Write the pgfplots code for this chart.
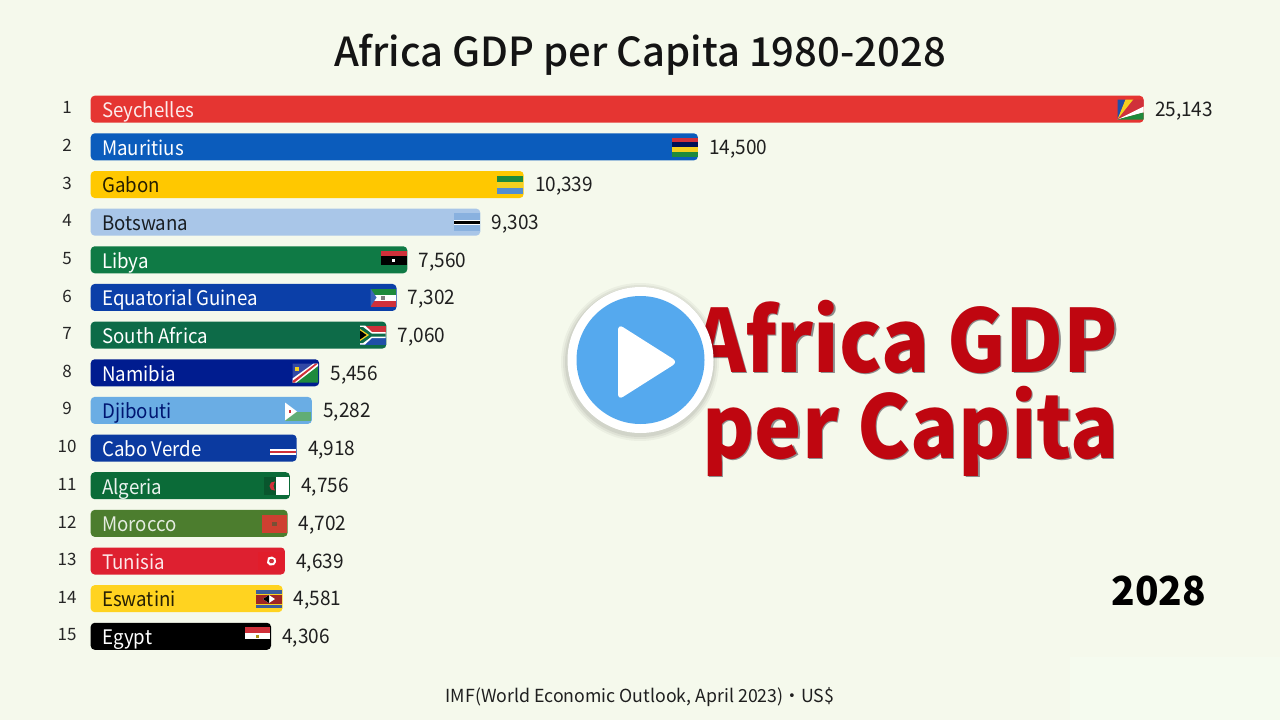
\documentclass[border=0pt]{standalone}
\usepackage{fontspec}
\usepackage{graphicx}
\usepackage{pgfplots}
\pgfplotsset{compat=1.18}
\setmainfont{Noto Sans CJK SC}
\newfontfamily\medf{Noto Sans CJK SC Medium}
\definecolor{bgc}{HTML}{F5F9EC}
\definecolor{patchc}{HTML}{F5FBEF}
\definecolor{bigred}{HTML}{BF0610}
\definecolor{playb}{HTML}{55A9EE}
\definecolor{c1}{HTML}{E53532}
\definecolor{c2}{HTML}{0B5CBC}
\definecolor{c3}{HTML}{FFC800}
\definecolor{c4}{HTML}{A9C6E8}
\definecolor{c5}{HTML}{0F7A45}
\definecolor{c6}{HTML}{0B3FA8}
\definecolor{c7}{HTML}{0D6B48}
\definecolor{c8}{HTML}{001C8F}
\definecolor{c9}{HTML}{6AADE4}
\definecolor{c10}{HTML}{0B3AA0}
\definecolor{c11}{HTML}{0B6B38}
\definecolor{c12}{HTML}{4C7D2E}
\definecolor{c13}{HTML}{DE2030}
\definecolor{c14}{HTML}{FFD320}
\definecolor{c15}{HTML}{000000}
\definecolor{fred}{HTML}{D0303A}
\definecolor{fgreen}{HTML}{1E8A3C}
\definecolor{fblue}{HTML}{1F4FA8}
\definecolor{fyel}{HTML}{F4D020}
\pgfplotsset{
  mybar/.style={xbar, bar width=27pt, bar shift=0pt, rounded corners=4pt, draw=none, fill=#1,
    nodes near coords,
    nodes near coords style={anchor=west, xshift=8pt, yshift=-1.9pt, text=black!88,
      xscale=0.95, transform shape,
      font=\fontsize{20}{24}\selectfont,
      /pgf/number format/assume math mode=true,
      /pgf/number format/fixed, /pgf/number format/precision=0,
      /pgf/number format/1000 sep={,}}},
}
% flag helpers: local coordinates in pixels, origin at the flag's top left
\newcommand\FP[2]{\addplot[fill=#1,draw=none,forget plot,
   x filter/.expression={x+\fx}, y filter/.expression={y+\fy}] coordinates {#2} --cycle;}
\newcommand\FR[5]{\FP{#5}{(#1,#2) (#3,#2) (#3,#4) (#1,#4)}}
\newcommand\FO[2]{\def\fx{#1}\def\fy{#2}}
\newcommand\nm[3]{\node[anchor=base west,text=#3,font=\fontsize{20}{24}\selectfont,xshift=8pt,yshift=-8.3pt] at (axis cs:0,#1) {\scalebox{0.934}[1]{#2}};}
\newcommand\bigt[5]{\node[anchor=base east,font=\bfseries\fontsize{87}{96}\selectfont,text=#4,xshift=#5pt,yshift=-#5pt] at (axis cs:#1,#2) {\scalebox{0.915}[1]{#3}};}
\begin{document}
\begin{tikzpicture}
\useasboundingbox (0,0) rectangle (1280pt,720pt);
\fill[bgc] (0,0) rectangle (1280pt,720pt);
\fill[patchc] (1070pt,0) rectangle (1280pt,63pt);
\begin{axis}[
  at={(0,0)}, anchor=south west, scale only axis, width=1280pt, height=720pt,
  xmin=-2165.6, xmax=28398, ymin=-1.9004, ymax=17.223, y dir=reverse,
  axis line style={draw=none}, major tick length=0pt, xtick=\empty,
  ytick={1,2,3,4,5,6,7,8,9,10,11,12,13,14,15},
  yticklabel style={anchor=center, xshift=67pt, yshift=1.5pt, text=black!85,
     font=\fontsize{17}{20}\selectfont, /pgf/number format/assume math mode=true},
]
\addplot[mybar=c1] coordinates {(25143,1)};
\addplot[mybar=c2] coordinates {(14500,2)};
\addplot[mybar=c3] coordinates {(10339,3)};
\addplot[mybar=c4] coordinates {(9303,4)};
\addplot[mybar=c5] coordinates {(7560,5)};
\addplot[mybar=c6] coordinates {(7302,6)};
\addplot[mybar=c7] coordinates {(7060,7)};
\addplot[mybar=c8] coordinates {(5456,8)};
\addplot[mybar=c9] coordinates {(5282,9)};
\addplot[mybar=c10] coordinates {(4918,10)};
\addplot[mybar=c11] coordinates {(4756,11)};
\addplot[mybar=c12] coordinates {(4702,12)};
\addplot[mybar=c13] coordinates {(4639,13)};
\addplot[mybar=c14] coordinates {(4581,14)};
\addplot[mybar=c15] coordinates {(4306,15)};
\nm{1}{Seychelles}{white!90!c1}
\nm{2}{Mauritius}{white}
\nm{3}{Gabon}{black!85!c3}
\nm{4}{Botswana}{black!85!c4}
\nm{5}{Libya}{white}
\nm{6}{Equatorial Guinea}{white}
\nm{7}{South Africa}{white}
\nm{8}{Namibia}{white}
\nm{9}{Djibouti}{c8!80!black}
\nm{10}{Cabo Verde}{white}
\nm{11}{Algeria}{white!92!c11}
\nm{12}{Morocco}{white!85!c12}
\nm{13}{Tunisia}{white!90!c13}
\nm{14}{Eswatini}{black!85!c14}
\nm{15}{Egypt}{white}
\end{axis}
\begin{axis}[
  at={(0,0)}, anchor=south west, scale only axis, width=1280pt, height=720pt,
  xmin=0, xmax=1280, ymin=0, ymax=720, y dir=reverse, hide axis,
]
% Seychelles
\FO{1117.5}{99.5}
\FP{fblue}{(0,20) (0,0) (8,0)}
\FP{fyel}{(0,20) (8,0) (16,0)}
\FP{fred}{(0,20) (16,0) (26,0) (26,7)}
\FP{white}{(0,20) (26,7) (26,13)}
\FP{fgreen}{(0,20) (26,13) (26,20)}
% Mauritius
\FO{672}{137.5}
\FR{0}{0}{25.5}{4.8}{fred}
\FR{0}{4.8}{25.5}{9.5}{c8!60!black}
\FR{0}{9.5}{25.5}{14.2}{fyel}
\FR{0}{14.2}{25.5}{19}{fgreen}
% Gabon
\FO{497}{175.5}
\FR{0}{0}{25.5}{6}{fgreen}
\FR{0}{6}{25.5}{12}{fyel}
\FR{0}{12}{25.5}{18.5}{c2!70!white}
% Botswana
\FO{454}{213}
\FR{0}{0}{25.5}{6.5}{c4!80!c2}
\FR{0}{6.5}{25.5}{7.5}{white}
\FR{0}{7.5}{25.5}{10.5}{black}
\FR{0}{10.5}{25.5}{11.5}{white}
\FR{0}{11.5}{25.5}{18}{c4!80!c2}
% Libya
\FO{381}{251}
\FR{0}{0}{25.5}{4.5}{fred}
\FR{0}{4.5}{25.5}{13.5}{black}
\FR{0}{13.5}{25.5}{18}{c5}
\FR{11}{7.5}{14}{10.5}{white}
% Equatorial Guinea
\FO{370.5}{288.5}
\FR{0}{0}{25.5}{6}{fgreen}
\FR{0}{6}{25.5}{12}{white}
\FR{0}{12}{25.5}{18}{fred}
\FP{c6!80!white}{(0,0) (6,9) (0,18)}
\FR{10.5}{7}{14}{11}{gray}
% South Africa
\FO{360}{325.5}
\FR{0}{0}{25.5}{9.5}{fred}
\FR{0}{9.5}{25.5}{19}{fblue}
\FP{white}{(0,0) (5,0) (12,6.5) (25.5,6.5) (25.5,12.5) (12,12.5) (5,19) (0,19)}
\FP{c7}{(0,1.5) (3,1.5) (11.5,8) (25.5,8) (25.5,11) (11.5,11) (3,17.5) (0,17.5)}
\FP{fyel}{(0,3.5) (9,9.5) (0,15.5)}
\FP{black}{(0,5) (6.5,9.5) (0,14)}
% Namibia
\FO{292.5}{363.5}
\FP{c8!80!white}{(0,0) (25.5,0) (0,19)}
\FP{fgreen}{(25.5,0) (25.5,19) (0,19)}
\FP{white}{(0,19) (0,15) (21,0) (25.5,0) (25.5,2.5) (4,19)}
\FP{fred}{(0,19) (0,17.5) (23,0) (25.5,0) (2,19)}
\FR{2.5}{3}{6.5}{7}{fyel}
% Djibouti
\FO{285}{402.5}
\FR{0}{9}{25.5}{18}{fgreen!70!white}
\FP{white}{(0,0) (12,9) (0,18)}
\FR{3.5}{7.8}{6}{10.2}{fred}
% Cabo Verde
\FO{270}{444}
\FR{0}{4.8}{25.5}{10.5}{white}
\FR{0}{6.7}{25.5}{8.6}{fred}
% Algeria
\FO{264}{477}
\FR{12}{0}{25}{18}{white}
\FR{0}{0}{12}{18}{c11!80!black}
\FP{fred}{(7,5.5) (11,4.5) (10,6.5) (9.5,9) (10,11.5) (11,13.5) (7,12.5) (5.5,9)}
% Morocco
\FO{261.5}{515}
\FR{0}{0}{25.5}{18}{c1!85!c12}
\FR{10.5}{6.5}{15}{11}{c11!50!c1}
% Tunisia
\FO{258}{552}
\FR{0}{0}{25.5}{18}{c13!90!red}
\FP{white}{(10,5.5) (14,4.5) (17.5,6.5) (18,10) (16,13) (12,13.5) (9,11)}
\FP{fred}{(12,7) (15,7) (16,9) (15,11) (12,11) (11,9)}
% Eswatini
\FO{256}{590}
\FR{0}{0}{25.5}{18}{fblue!70!gray}
\FR{0}{3.5}{25.5}{14.5}{fyel}
\FR{0}{4.5}{25.5}{13.5}{c1!70!black}
\FP{white}{(7,9) (13,5) (19,9) (13,13)}
\FP{black}{(7,9) (13,5) (13,13)}
% Egypt
\FO{244.7}{627}
\FR{0}{0}{25.5}{6}{fred}
\FR{0}{6}{25.5}{12}{white}
\FR{11}{7.5}{14.5}{11}{fyel!70!black}
% overlay text
\node[anchor=base,font=\medf\fontsize{40}{48}\selectfont,text=black!92] at (axis cs:640,66.5) {Africa GDP per Capita 1980-2028};
\node[anchor=base,font=\fontsize{18}{22}\selectfont,text=black!88] at (axis cs:640,702) {\scalebox{0.985}[1]{IMF(World Economic Outlook, April 2023)・US\$}};
\node[anchor=base east,font=\bfseries\fontsize{40}{48}\selectfont] at (axis cs:1209.5,605) {\scalebox{0.97}[1]{2028}};
\bigt{1122}{372}{Africa GDP}{black!45}{1.5}
\bigt{1122}{458}{per Capita}{black!45}{1.5}
\bigt{1122}{372}{Africa GDP}{bigred}{0}
\bigt{1122}{458}{per Capita}{bigred}{0}
\fill[black,opacity=0.04] (axis cs:640,362) circle[radius=79pt];
\fill[black,opacity=0.05] (axis cs:640,362) circle[radius=77pt];
\fill[black,opacity=0.06] (axis cs:640,362) circle[radius=75pt];
\fill[white] (axis cs:640.5,360) circle[radius=73pt];
\fill[playb] (axis cs:640.5,360) circle[radius=64pt];
\fill[white,rounded corners=6pt] (axis cs:618,324) -- (axis cs:678,362) -- (axis cs:618,400) -- cycle;
\end{axis}
\end{tikzpicture}
\end{document}
